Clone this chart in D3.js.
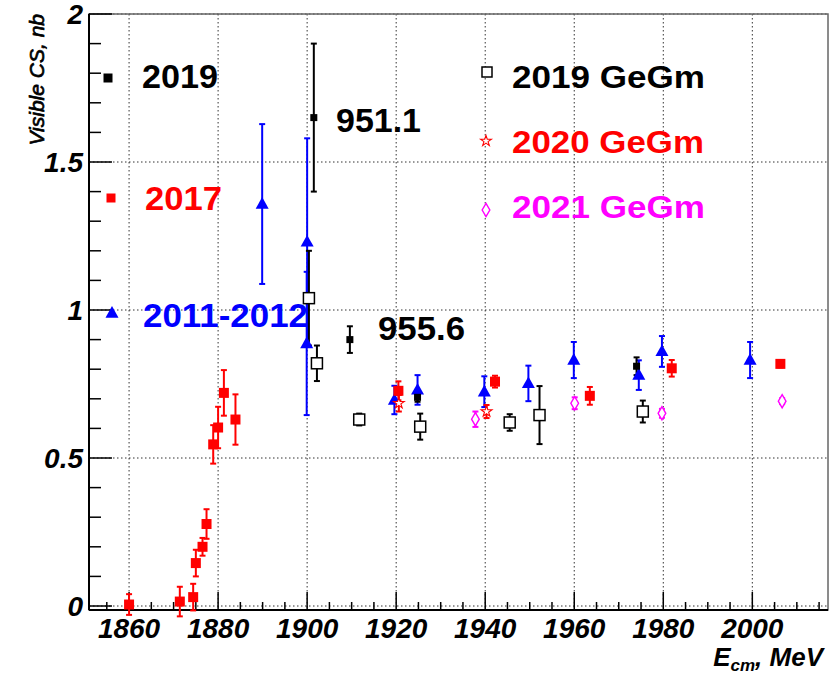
<!DOCTYPE html>
<html><head><meta charset="utf-8">
<script src="https://cdn.jsdelivr.net/npm/d3@7"></script>
<style>body{margin:0;background:#fff}svg{display:block}</style>
</head><body>
<svg id="c" width="839" height="674"></svg>
<script>
// ---- data ----
const e2017 = [1860, 1871.4, 1874.4, 1875.0, 1876.5, 1877.4, 1878.9, 1880.0, 1881.3, 1883.9, 1920.5, 1942.2, 1963.5, 1981.9, 2006.3];
const v2017 = [0.005, 0.015, 0.03, 0.145, 0.2, 0.277, 0.546, 0.603, 0.72, 0.63, 0.727, 0.758, 0.71, 0.803, 0.818];
const d2017 = [0.035, 0.05, 0.045, 0.045, 0.03, 0.05, 0.065, 0.07, 0.077, 0.085, 0.032, 0.02, 0.03, 0.028, 0.012];

const e2019 = [1901.5, 1909.6, 1924.8, 1974.0];
const v2019 = [1.65, 0.9, 0.705, 0.81];
const d2019 = [0.25, 0.045, 0.015, 0.03];

const e2011 = [1889.9, 1900.0, 1899.9, 1919.6, 1924.8, 1939.8, 1949.7, 1959.9, 1974.5, 1979.7, 1999.5];
const v2011 = [1.358, 1.23, 0.887, 0.696, 0.73, 0.724, 0.752, 0.831, 0.78, 0.86, 0.831];
const d2011 = [0.27, 0.35, 0.242, 0.048, 0.05, 0.052, 0.06, 0.061, 0.05, 0.052, 0.061];

const eG19 = [1900.4, 1902.2, 1911.7, 1925.4, 1945.5, 1952.2, 1975.4];
const vG19 = [1.04, 0.82, 0.63, 0.606, 0.62, 0.645, 0.657];
const dG19 = [0.16, 0.06, 0.02, 0.044, 0.028, 0.098, 0.037];

const eG20 = [1920.6, 1940.3];
const vG20 = [0.685, 0.657];
const dG20 = [0.028, 0.022];

const eG21 = [1937.8, 1960.1, 1979.7, 2006.7];
const vG21 = [0.631, 0.685, 0.651, 0.692];
const dG21 = [0.026, 0.02, 0.015, 0.01];

const xTicks = [1860, 1880, 1900, 1920, 1940, 1960, 1980, 2000];
const yTicks = [0, 0.5, 1, 1.5, 2];
const yTickLabels = ["0", "0.5", "1", "1.5", "2"];
const legendLeft = ["2019", "2017", "2011-2012"];
const legendRight = ["2019 GeGm", "2020 GeGm", "2021 GeGm"];
const annotations = ["951.1", "955.6"];

// ---- layout ----
const svg = d3.select("#c");
const L = 89, R = 828, T = 14, B = 610;
const x = d3.scaleLinear().domain([1851, 2017]).range([L, R]);
const y = d3.scaleLinear().domain([-0.0135, 2.0]).range([B, T]);

// grid
const g = svg.append("g");
g.selectAll("line.gx").data(xTicks).join("line")
  .attr("x1", d => x(d)).attr("x2", d => x(d)).attr("y1", T).attr("y2", B)
  .attr("stroke", "#333").attr("stroke-width", 1).attr("stroke-dasharray", "1.5,2.5");
g.selectAll("line.gy").data(yTicks).join("line")
  .attr("y1", d => y(d)).attr("y2", d => y(d)).attr("x1", L).attr("x2", R)
  .attr("stroke", "#333").attr("stroke-width", 1).attr("stroke-dasharray", "1.5,2.5");

// frame
svg.append("rect").attr("x", L).attr("y", T).attr("width", R - L).attr("height", B - T)
  .attr("fill", "none").attr("stroke", "#666").attr("stroke-width", 1.5);
svg.append("line").attr("x1", L).attr("x2", L).attr("y1", T).attr("y2", B).attr("stroke", "#000").attr("stroke-width", 2);
svg.append("line").attr("x1", L).attr("x2", R).attr("y1", B).attr("y2", B).attr("stroke", "#000").attr("stroke-width", 2);

// x ticks (inward)
const xMinor = d3.range(1855, 2016, 5);
svg.selectAll("line.xt").data(xMinor).join("line")
  .attr("x1", d => x(d)).attr("x2", d => x(d)).attr("y1", B)
  .attr("y2", d => (d % 20 === 0) ? B - 18 : B - 8)
  .attr("stroke", "#000").attr("stroke-width", 1.5);
// y ticks
const yMinor = d3.range(0, 21).map(i => i / 10);
svg.selectAll("line.yt").data(yMinor).join("line")
  .attr("y1", d => y(d)).attr("y2", d => y(d)).attr("x1", L)
  .attr("x2", (d, i) => (i % 5 === 0) ? L + 23 : L + 12)
  .attr("stroke", "#000").attr("stroke-width", 1.5);

const tickFont = "'Liberation Sans', Arial, sans-serif";
svg.selectAll("text.xl").data(xTicks).join("text")
  .attr("x", d => x(d)).attr("y", 638).attr("text-anchor", "middle")
  .attr("font-family", tickFont).attr("font-size", 28).attr("font-weight", "bold").attr("font-style", "italic")
  .text(d => d);
svg.selectAll("text.yl").data(yTicks).join("text")
  .attr("x", 83).attr("y", d => y(d) + 10).attr("text-anchor", "end")
  .attr("font-family", tickFont).attr("font-size", 28).attr("font-weight", "bold").attr("font-style", "italic")
  .text((d, i) => yTickLabels[i]);

// axis titles
svg.append("text").attr("transform", "translate(44,14) rotate(-90)").attr("text-anchor", "end")
  .attr("font-family", tickFont).attr("font-size", 21).attr("font-style", "italic")
  .attr("stroke", "#000").attr("stroke-width", 0.7)
  .text("Visible CS, nb");
const xt = svg.append("text").attr("x", 823).attr("y", 666).attr("text-anchor", "end")
  .attr("font-family", tickFont).attr("font-size", 26).attr("font-style", "italic").attr("font-weight", "bold");
xt.append("tspan").text("E");
xt.append("tspan").attr("font-size", 17).attr("dy", 5).text("cm");
xt.append("tspan").attr("dy", -5).text(", MeV");

// ---- markers ----
function errBars(E, V, D, color, cap) {
  const gg = svg.append("g").attr("stroke", color).attr("stroke-width", 2);
  E.forEach((e, i) => {
    const cx = x(e), y1 = y(V[i] + D[i]), y2 = y(V[i] - D[i]);
    gg.append("line").attr("x1", cx).attr("x2", cx).attr("y1", y1).attr("y2", y2);
    gg.append("line").attr("x1", cx - cap).attr("x2", cx + cap).attr("y1", y1).attr("y2", y1);
    gg.append("line").attr("x1", cx - cap).attr("x2", cx + cap).attr("y1", y2).attr("y2", y2);
  });
}
function drawMarkers(E, V, kind, color, size) {
  E.forEach((e, i) => drawMarker(x(e), y(V[i]), kind, color, size));
}
function drawMarker(cx, cy, kind, color, size) {
  if (kind === "fsquare") {
    svg.append("rect").attr("x", cx - size / 2).attr("y", cy - size / 2).attr("width", size).attr("height", size).attr("fill", color);
  } else if (kind === "osquare") {
    svg.append("rect").attr("x", cx - size / 2).attr("y", cy - size / 2).attr("width", size).attr("height", size)
      .attr("fill", "#fff").attr("stroke", color).attr("stroke-width", 1.5);
  } else if (kind === "tri") {
    const h = size * 0.9, w = size;
    svg.append("path").attr("d", `M${cx},${cy - h * 0.6}L${cx + w / 2},${cy + h * 0.4}L${cx - w / 2},${cy + h * 0.4}Z`).attr("fill", color);
  } else if (kind === "star") {
    svg.append("path").attr("d", d3.symbol(d3.symbolStar, size * size * 0.3)()).attr("transform", `translate(${cx},${cy})`)
      .attr("fill", "#fff").attr("stroke", color).attr("stroke-width", 1.1);
  } else if (kind === "diamond") {
    const w = size * 0.32, h = size * 0.55;
    svg.append("path").attr("d", `M${cx},${cy - h}L${cx + w},${cy}L${cx},${cy + h}L${cx - w},${cy}Z`)
      .attr("fill", "#fff").attr("stroke", color).attr("stroke-width", 1.4);
  }
}

errBars(e2011, v2011, d2011, "#0000ff", 3);
errBars(eG19, vG19, dG19, "#000", 3);
errBars(e2017, v2017, d2017, "#ff0000", 3);
errBars(e2019, v2019, d2019, "#000", 3);
errBars(eG20, vG20, dG20, "#ff0000", 3);
errBars(eG21, vG21, dG21, "#ff00ff", 3);

drawMarkers(eG19, vG19, "osquare", "#000", 11);
drawMarkers(e2011, v2011, "tri", "#0000ff", 13);
drawMarkers(e2017, v2017, "fsquare", "#ff0000", 10);
drawMarkers(e2019, v2019, "fsquare", "#000", 7);
drawMarkers(eG20, vG20, "star", "#ff0000", 11);
drawMarkers(eG21, vG21, "diamond", "#ff00ff", 12);

// ---- legends ----
const lf = (sel, col, w) => sel.attr("font-family", tickFont).attr("font-size", 33).attr("font-weight", "bold").attr("fill", col)
  .attr("textLength", w).attr("lengthAdjust", "spacingAndGlyphs");
drawMarker(108, 78, "fsquare", "#000", 9);
drawMarker(111, 198, "fsquare", "#ff0000", 9);
drawMarker(112, 313, "tri", "#0000ff", 13);
lf(svg.append("text").attr("x", 142).attr("y", 88).text(legendLeft[0]), "#000", 76);
lf(svg.append("text").attr("x", 145).attr("y", 210).text(legendLeft[1]), "#ff0000", 77);
lf(svg.append("text").attr("x", 143).attr("y", 327).text(legendLeft[2]), "#0000ff", 165);

drawMarker(487, 72, "osquare", "#000", 10);
drawMarker(486, 141, "star", "#ff0000", 11);
drawMarker(486, 210, "diamond", "#ff00ff", 12);
lf(svg.append("text").attr("x", 512).attr("y", 88).text(legendRight[0]), "#000", 193).attr("font-size", 31);
lf(svg.append("text").attr("x", 512).attr("y", 153).text(legendRight[1]), "#ff0000", 192).attr("font-size", 31);
lf(svg.append("text").attr("x", 512).attr("y", 218).text(legendRight[2]), "#ff00ff", 193).attr("font-size", 31);

lf(svg.append("text").attr("x", 336).attr("y", 132).text(annotations[0]), "#000", 85);
lf(svg.append("text").attr("x", 378).attr("y", 340).text(annotations[1]), "#000", 87);
</script>
</body></html>
